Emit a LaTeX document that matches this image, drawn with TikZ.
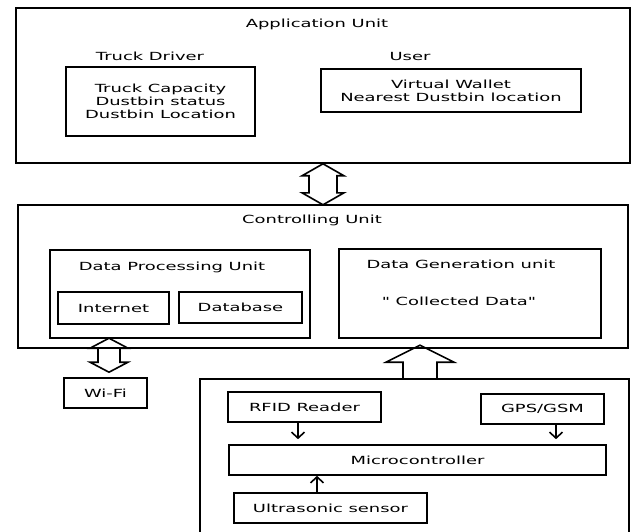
\documentclass[tikz,border=0pt]{standalone}
\usepackage{fontspec}
\setmainfont[FakeStretch=1.6]{DejaVu Sans}
\newfontfamily\plainfont[FakeStretch=1.6]{DejaVu Sans}
\usetikzlibrary{arrows.meta}

\tikzset{
  unitbox/.style={draw, line width=1.6pt, inner sep=0pt, align=center},
  headtext/.style={inner sep=0pt, anchor=base},
  blockarrow/.style={draw, line width=1.6pt, line join=miter},
  smallarrow/.style={line width=1.6pt, -{Straight Barb[length=6pt,width=13pt]}},
}

\begin{document}
\begin{tikzpicture}[x=1pt, y=-1pt, font=\fontsize{11.2}{13}\selectfont]
  \useasboundingbox (0,0) rectangle (632,532);

  % Application unit
  \node[unitbox, minimum width=614pt, minimum height=155pt] (app) at (323,85.5) {};
  \node[headtext] (apptitle) at (317,28) {Application Unit};
  \node[headtext] (driver) at (150,61) {Truck Driver};
  \node[unitbox, minimum width=189pt, minimum height=69pt] (truck) at (160.5,101.5)
    {Truck Capacity\\Dustbin status\\Dustbin Location};
  \node[headtext] (user) at (410,61) {User};
  \node[unitbox, minimum width=260pt, minimum height=43pt] (wallet) at (451,90.5)
    {Virtual Wallet\\Nearest Dustbin location};

  % Controlling unit
  \node[unitbox, minimum width=610pt, minimum height=143pt] (ctrl) at (323,276.5) {};
  \node[headtext] (ctrltitle) at (312,223) {Controlling Unit};
  \node[unitbox, minimum width=260pt, minimum height=88pt] (dpu) at (180,294) {};
  \node[headtext] (dputitle) at (172,270) {Data Processing Unit};
  \node[unitbox, minimum width=111pt, minimum height=32pt] (internet) at (113.5,308) {Internet};
  \node[unitbox, minimum width=123pt, minimum height=31pt] (database) at (240.5,307.5) {Database};
  \node[unitbox, minimum width=262pt, minimum height=89pt] (dgen) at (470,293.5) {};
  \node[headtext] (dgentitle) at (461,268) {Data Generation unit};
  \node[headtext, font=\fontsize{11.2}{13}\plainfont] (collected) at (459,305) {" Collected Data"};

  % Wi-Fi
  \node[unitbox, minimum width=83pt, minimum height=30pt] (wifi) at (105.5,393) {Wi-Fi};

  % Sensor unit (runs off the bottom)
  \node[unitbox, minimum width=429pt, minimum height=181pt] (sensor) at (414.5,469.5) {};
  \node[unitbox, minimum width=153pt, minimum height=30pt] (rfid) at (304.5,407) {RFID Reader};
  \node[unitbox, minimum width=123pt, minimum height=30pt] (gps) at (542.5,409) {GPS/GSM};
  \node[unitbox, minimum width=377pt, minimum height=30pt] (micro) at (417.5,460) {Microcontroller};
  \node[unitbox, minimum width=193pt, minimum height=30pt] (ultra) at (330.5,508) {Ultrasonic sensor};

  \draw[smallarrow, shorten >=5pt] ([xshift=-6.5pt]rfid.south) -- ([xshift=-6.5pt]rfid.south |- micro.north);
  \draw[smallarrow, shorten >=5pt] ([xshift=13.5pt]gps.south) -- ([xshift=13.5pt]gps.south |- micro.north);
  \draw[smallarrow] ([xshift=-13.5pt]ultra.north) -- ([xshift=-13.5pt]ultra.north |- micro.south);

  % Block arrows
  \draw[blockarrow] (app.south) -- ++(21,12) -- ++(-7,0) -- ++(0,17) -- ++(7,0) -- ++(-21,12)
    -- ++(-21,-12) -- ++(7,0) -- ++(0,-17) -- ++(-7,0) -- cycle;
  \draw[blockarrow] ([shift={(3.5,-5)}]wifi.north) -- ++(-19,-10) -- ++(8,0) -- ++(0,-14) -- ++(-8,0)
    -- ++(19,-10) -- ++(19,10) -- ++(-8,0) -- ++(0,14) -- ++(8,0) -- cycle;
  \draw[blockarrow] ([xshift=-11.5pt]sensor.north) -- ++(0,-16) -- ++(-17,0) -- ++(34,-17)
    -- ++(34,17) -- ++(-17,0) -- ++(0,16);
\end{tikzpicture}
\end{document}
